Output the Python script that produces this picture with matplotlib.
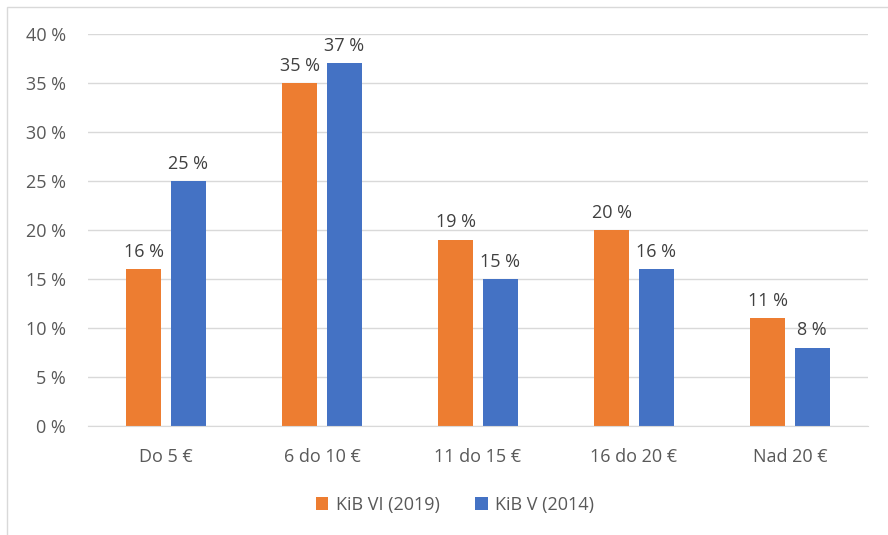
import matplotlib
matplotlib.use("Agg")
import matplotlib.pyplot as plt
from matplotlib.patches import Rectangle
import numpy as np

categories = ["Do 5 €", "6 do 10 €", "11 do 15 €", "16 do 20 €", "Nad 20 €"]
kib_vi_2019 = [16, 35, 19, 20, 11]
kib_v_2014 = [25, 37, 15, 16, 8]
series_names = ["KiB VI (2019)", "KiB V (2014)"]

ORANGE = "#ED7D31"
BLUE = "#4472C4"
TXT = "#595959"
GRID = "#D9D9D9"

plt.rcParams["font.family"] = ["Open Sans", "DejaVu Sans"]
FS = 13

fig = plt.figure(figsize=(8.88, 5.35), dpi=100)
fig.patches.append(Rectangle((7 / 888, -0.01), 1.0, 1 - 7 / 535 + 0.01, transform=fig.transFigure,
                             fill=False, edgecolor=GRID, linewidth=1.0))
ax = fig.add_axes([88 / 888, 1 - 426 / 535, 780 / 888, 392 / 535])

x = np.arange(len(categories))
w = 0.224
off = 0.143
b1 = ax.bar(x - off, kib_vi_2019, w, color=ORANGE, label=series_names[0], zorder=3)
b2 = ax.bar(x + off, kib_v_2014, w, color=BLUE, label=series_names[1], zorder=3)

for bars in (b1, b2):
    for r in bars:
        ax.annotate(f"{r.get_height():.0f} %", (r.get_x() + r.get_width() / 2, r.get_height()),
                    xytext=(0, 6), textcoords="offset points", ha="center", va="bottom",
                    fontsize=FS, color="#404040")

ax.set_xlim(-0.5, len(categories) - 0.5)
ax.set_ylim(0, 40)
ax.set_yticks(range(0, 41, 5))
ax.set_yticklabels([f"{v} %" for v in range(0, 41, 5)])
ax.set_xticks(x)
ax.set_xticklabels(categories)
ax.tick_params(axis="both", length=0, labelsize=FS, colors=TXT)
ax.tick_params(axis="y", pad=16)
ax.tick_params(axis="x", pad=16)
ax.grid(axis="y", color=GRID, linewidth=1.0, zorder=0)
for s in ["top", "right", "left"]:
    ax.spines[s].set_visible(False)
ax.spines["bottom"].set_color(GRID)
ax.spines["bottom"].set_zorder(4)

leg = fig.legend(handles=[b1, b2], loc="center", bbox_to_anchor=(455 / 888, 1 - 505 / 535),
                 ncol=2, frameon=False, fontsize=FS, handlelength=0.7, handleheight=0.7,
                 columnspacing=2.0, handletextpad=0.4)
for t in leg.get_texts():
    t.set_color(TXT)

fig.savefig("out.png", dpi=100)
